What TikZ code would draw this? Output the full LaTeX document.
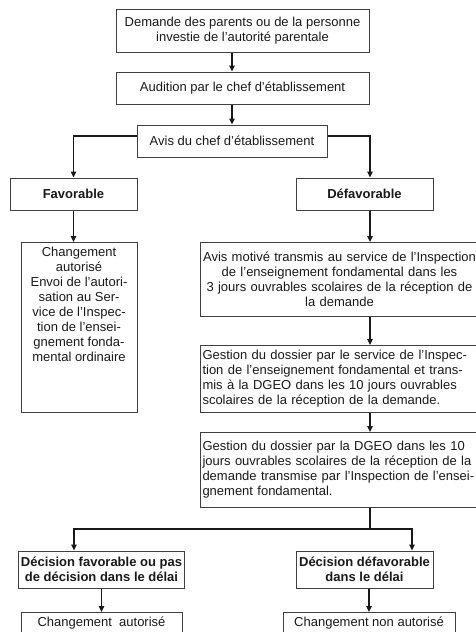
\documentclass[tikz,border=0pt]{standalone}
\usepackage{fontspec}
\setmainfont{Liberation Sans}
\usetikzlibrary{arrows.meta, calc, positioning}

\begin{document}
\begin{tikzpicture}[x=1pt, y=1pt, >={Triangle[length=6pt, width=5.5pt]},
    every node/.style={font=\fontsize{13}{15}\selectfont, text=black!90},
    box/.style={draw=black!75, line width=1pt, inner xsep=2pt, inner ysep=3pt, align=center},
    head/.style={box, font=\fontsize{13}{15}\selectfont\bfseries},
    link/.style={draw=black!90, line width=1.2pt}]
    \useasboundingbox (0,0) rectangle (476,-632);
    \clip (0,0) rectangle (476,-632);
    \coordinate (rcol) at (370,0);

    % trunk
    \node[box, minimum width=253pt, minimum height=43pt] (demande) at (242.5,-30.5) {Demande des parents ou de la personne\\investie de l'autorité parentale};
    \node[box, minimum width=253pt, minimum height=32pt] (audition) at (242.5,-88) {Audition par le chef d'établissement};
    \node[box, minimum width=190pt, minimum height=32pt] (avis) at (232,-141) {Avis du chef d'établissement};
    \node[head, minimum width=127pt, minimum height=32pt] (fav) at (73.5,-194) {Favorable};
    \node[head, minimum width=137pt, minimum height=32pt] (defav) at (364.5,-194) {Défavorable};

    % left branch
    \node[box, minimum width=116pt, minimum height=170pt, anchor=north] (chg) at (79,-242) {};
    \node[anchor=north, align=center, inner sep=5pt] (chgtext) at (chg.north) {Changement\\autorisé\\Envoi de l'autori-\\sation au Ser-\\vice de l'Inspec-\\tion de l'ensei-\\gnement fonda-\\mental ordinaire};

    % right branch
    \node[box, text width=274pt, minimum height=74pt, anchor=north west] (motive) at (200,-242) {Avis motivé transmis au service de l'Inspection\\de l'enseignement fondamental dans les\\3 jours ouvrables scolaires de la réception de\\la demande};
    \node[box, text width=274pt, align=left, minimum height=67pt, anchor=north west] (inspection) at (200,-345) {Gestion du dossier par le service de l'Inspec-\\tion de l'enseignement fondamental et trans-\\mis à la DGEO dans les 10 jours ouvrables\\scolaires de la réception de la demande.};
    \node[box, text width=274pt, align=left, minimum height=75pt, anchor=north west] (dgeo) at (200,-432) {Gestion du dossier par la DGEO dans les 10\\jours ouvrables scolaires de la réception de la\\demande transmise par l'Inspection de l'ensei-\\gnement fondamental.};

    % decisions
    \node[head, minimum width=161pt, minimum height=37pt] (decfav) at (101.5,-569.5) {Décision favorable ou pas\\de décision dans le délai};
    \node[head, minimum width=137pt, minimum height=37pt] (decdef) at (364.5,-569.5) {Décision défavorable\\dans le délai};
    \node[box, minimum width=161pt, minimum height=22pt, anchor=north] (finfav) at (101.5,-612) {Changement~ autorisé};
    \node[box, minimum width=172pt, minimum height=22pt, anchor=north] (findef) at (369,-612) {Changement non autorisé};

    % connectors
    \draw[link, ->] (avis.north |- demande.south) -- (avis.north |- audition.north);
    \draw[link, ->] (avis.north |- audition.south) -- (avis.north);
    \draw[link, ->] ([yshift=5pt]avis.west) -| (fav.north);
    \draw[link, ->] ([yshift=5pt]avis.east) -| (rcol |- defav.north);
    \draw[link, ->] (fav.south) -- (fav.south |- chg.north);
    \draw[link, ->] (rcol |- defav.south) -- (rcol |- motive.north);
    \draw[link, ->] (rcol |- motive.south) -- (rcol |- inspection.north);
    \draw[link, ->] (rcol |- inspection.south) -- (rcol |- dgeo.north);
    \coordinate (split) at (370,-529);
    \coordinate (splitl) at (74,-529);
    \coordinate (splitr) at (412,-529);
    \draw[link] (rcol |- dgeo.south) -- (split);
    \draw[link, ->] (split) -- (splitl) -- (splitl |- decfav.north);
    \draw[link, ->] (split) -- (splitr) -- (splitr |- decdef.north);
    \draw[link, ->] (decfav.south) -- (finfav.north);
    \draw[link, ->] (findef.north |- decdef.south) -- (findef.north);
\end{tikzpicture}
\end{document}
